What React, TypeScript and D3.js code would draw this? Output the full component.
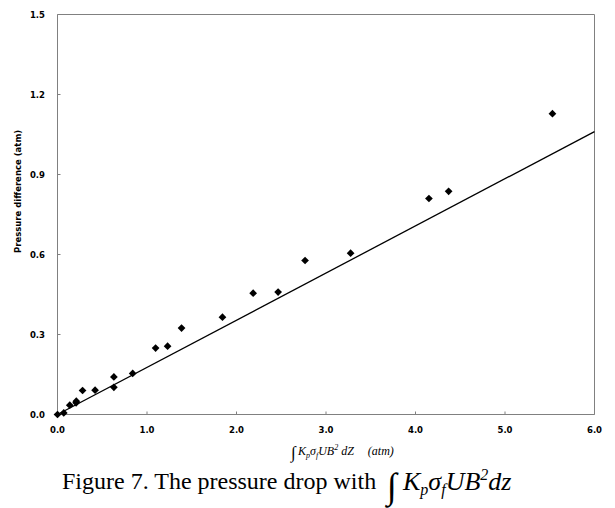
import React from "react";
import * as d3 from "d3";

const xVals = [0.0, 0.07, 0.137, 0.208, 0.21, 0.28, 0.42, 0.63, 0.63, 0.84, 1.096, 1.23, 1.386, 1.843, 2.186, 2.465, 2.766, 3.275, 4.15, 4.37, 5.53];
const yVals = [0.0, 0.006, 0.035, 0.044, 0.05, 0.09, 0.091, 0.102, 0.141, 0.154, 0.249, 0.256, 0.324, 0.365, 0.455, 0.459, 0.5775, 0.605, 0.81, 0.837, 1.128];
const fitX = [0.0, 6.0];
const fitY = [0.0, 1.061];
const xTicks = [0, 1, 2, 3, 4, 5, 6];
const yTicks = [0, 0.3, 0.6, 0.9, 1.2, 1.5];

export default function App() {
  const W = 615, H = 508;
  const x = d3.scaleLinear().domain([0, 6]).range([57.5, 594.5]);
  const y = d3.scaleLinear().domain([0, 1.5]).range([414.5, 14.5]);
  const line = d3.line<number>().x((_, i) => x(fitX[i])).y((d) => y(d));
  const diamond = d3.symbol().type(d3.symbolDiamond2).size(38)() as string;
  const tickFont = "Tahoma, 'DejaVu Sans', Verdana, sans-serif";
  const serif = "'Liberation Serif', 'Times New Roman', serif";
  return (
    <svg width={W} height={H} style={{ position: "absolute", left: 0, top: 0 }}>
      <rect width={W} height={H} fill="#fff" />
      <path d={`M${x(0)},${y(1.5)}H${x(6)}V${y(0)}`} fill="none" stroke="#808080" strokeWidth={1} />
      <line x1={x(0)} x2={x(0)} y1={y(1.5)} y2={y(0)} stroke="#808080" />
      <line x1={x(0)} x2={x(6)} y1={y(0)} y2={y(0)} stroke="#808080" />
      {xTicks.map((t) => (
        <g key={"xt" + t}>
          <line x1={x(t)} x2={x(t)} y1={y(0)} y2={y(0) - 3} stroke="#808080" />
          <text x={x(t)} y={433} textAnchor="middle" fontFamily={tickFont} fontWeight="bold" fontSize={8.5} fill="#000">
            {t.toFixed(1)}
          </text>
        </g>
      ))}
      {yTicks.map((t) => (
        <g key={"yt" + t}>
          <line x1={x(0)} x2={x(0) + 3} y1={y(t)} y2={y(t)} stroke="#808080" />
          <text x={45} y={y(t) + 3} textAnchor="end" fontFamily={tickFont} fontWeight="bold" fontSize={8.5} fill="#000">
            {t.toFixed(1)}
          </text>
        </g>
      ))}
      <text
        transform={`translate(21,253) rotate(-90)`}
        textAnchor="start"
        fontFamily={tickFont}
        fontWeight="bold"
        fontSize={8.5}
        fill="#000"
      >
        Pressure difference (atm)
      </text>
      <path d={line(fitY) as string} fill="none" stroke="#000" strokeWidth={1.3} />
      {xVals.map((v, i) => (
        <path key={"p" + i} d={diamond} transform={`translate(${x(v)},${y(yVals[i])})`} fill="#000" />
      ))}
      {/* x-axis label */}
      <g fontFamily={serif} fontStyle="italic" fill="#000">
        <text x={291} y={458} fontSize={17} fontStyle="normal">∫</text>
        <text x={298} y={455} fontSize={12}>
          K<tspan fontSize={8} dy={3}>p</tspan>
          <tspan dy={-3}>σ</tspan>
          <tspan fontSize={8} dy={3}>f</tspan>
          <tspan dy={-3}>UB</tspan>
          <tspan fontSize={8} dy={-5}>2</tspan>
          <tspan dy={5}> dZ</tspan>
          <tspan dx={14}>(atm)</tspan>
        </text>
      </g>
      {/* caption */}
      <g fontFamily={serif} fill="#000">
        <text x={62} y={489} fontSize={24}>Figure 7. The pressure drop with</text>
        <text x={387} y={498} fontSize={36}>∫</text>
        <text x={403} y={490} fontSize={26} fontStyle="italic">
          K<tspan fontSize={16} dy={5}>p</tspan>
          <tspan dy={-5}>σ</tspan>
          <tspan fontSize={16} dy={5}>f</tspan>
          <tspan dy={-5}>UB</tspan>
          <tspan fontSize={16} dy={-10}>2</tspan>
          <tspan dy={10}>dz</tspan>
        </text>
      </g>
    </svg>
  );
}
